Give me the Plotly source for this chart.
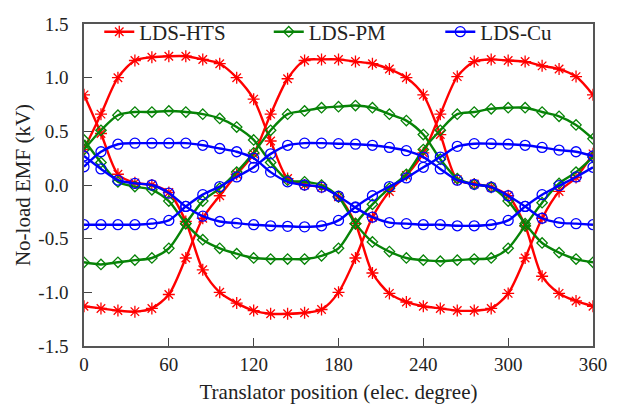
import plotly.graph_objects as go

# Translator position (electrical degrees), markers every 12 degrees
theta = list(range(0, 361, 12))

# LDS-HTS three-phase no-load EMF (kV)
hts_a = [0.33, 0.66, 1.00, 1.16, 1.19, 1.20, 1.20, 1.17, 1.13, 1.00, 0.80, 0.41, 0.06, 0.00, -0.02, -0.11,
         -0.36, -0.82, -1.01, -1.09, -1.13, -1.15, -1.17, -1.17, -1.15, -1.01, -0.68, -0.31, -0.06, 0.07, 0.29]
hts_b = [-1.13, -1.15, -1.17, -1.18, -1.15, -1.02, -0.68, -0.31, -0.10, 0.10, 0.29, 0.66, 0.99, 1.16, 1.17, 1.17,
         1.15, 1.13, 1.08, 1.00, 0.84, 0.47, 0.05, 0.01, -0.02, -0.10, -0.38, -0.85, -1.01, -1.08, -1.13]
hts_c = [0.84, 0.48, 0.10, 0.02, 0.00, -0.07, -0.34, -0.79, -1.00, -1.10, -1.17, -1.20, -1.20, -1.19, -1.16, -1.00,
         -0.68, -0.30, -0.06, 0.09, 0.30, 0.66, 1.01, 1.15, 1.17, 1.16, 1.15, 1.11, 1.08, 1.01, 0.84]

# LDS-PM
pm_a = [0.33, 0.51, 0.65, 0.68, 0.68, 0.69, 0.68, 0.66, 0.62, 0.54, 0.42, 0.21, 0.045, 0.03, 0.00, -0.11,
        -0.36, -0.53, -0.62, -0.68, -0.70, -0.71, -0.70, -0.69, -0.68, -0.59, -0.38, -0.165, 0.015, 0.12, 0.26]
pm_b = [-0.72, -0.74, -0.72, -0.70, -0.68, -0.59, -0.36, -0.15, -0.03, 0.12, 0.30, 0.51, 0.66, 0.69, 0.72, 0.73,
        0.74, 0.72, 0.66, 0.60, 0.47, 0.24, 0.06, 0.006, -0.02, -0.15, -0.36, -0.54, -0.63, -0.69, -0.72]
pm_c = [0.42, 0.21, 0.03, -0.015, -0.045, -0.15, -0.36, -0.51, -0.59, -0.64, -0.68, -0.69, -0.69, -0.69, -0.66, -0.59,
        -0.36, -0.18, -0.03, 0.10, 0.33, 0.51, 0.66, 0.68, 0.71, 0.72, 0.72, 0.68, 0.64, 0.56, 0.43]

# LDS-Cu
cu_a = [0.17, 0.31, 0.38, 0.39, 0.39, 0.39, 0.39, 0.37, 0.34, 0.31, 0.25, 0.12, 0.03, 0.00, -0.02, -0.105,
        -0.21, -0.30, -0.35, -0.36, -0.37, -0.37, -0.38, -0.38, -0.37, -0.33, -0.20, -0.09, -0.006, 0.075, 0.165]
cu_b = [-0.37, -0.37, -0.37, -0.37, -0.36, -0.33, -0.20, -0.09, -0.015, 0.075, 0.165, 0.29, 0.37, 0.39, 0.39, 0.385,
        0.38, 0.37, 0.35, 0.32, 0.26, 0.15, 0.045, 0.006, -0.02, -0.10, -0.20, -0.31, -0.35, -0.36, -0.37]
cu_c = [0.27, 0.15, 0.045, 0.015, 0.0, -0.075, -0.20, -0.29, -0.34, -0.355, -0.37, -0.38, -0.385, -0.39, -0.38, -0.33,
        -0.205, -0.10, -0.015, 0.066, 0.165, 0.26, 0.36, 0.385, 0.385, 0.38, 0.37, 0.35, 0.325, 0.31, 0.27]

x_ticks = [0, 60, 120, 180, 240, 300, 360]
y_ticks = [1.5, 1.0, 0.5, 0.0, -0.5, -1.0, -1.5]
y_tick_text = ["1.5", "1.0", "0.5", "0.0", "-0.5", "-1.0", "-1.5"]

groups = [
    ("LDS-HTS", [hts_a, hts_b, hts_c], "#ff0000", "asterisk-open", 10, "legend"),
    ("LDS-PM", [pm_a, pm_b, pm_c], "#078307", "diamond-open", 8, "legend2"),
    ("LDS-Cu", [cu_a, cu_b, cu_c], "#0000ff", "circle-open", 10, "legend3"),
]

FONT = "Liberation Serif"
fig = go.Figure()
for name, phases, color, symbol, msize, leg in groups:
    for i, ys in enumerate(phases):
        fig.add_trace(go.Scatter(
            x=theta, y=ys, mode="lines+markers", name=name,
            showlegend=(i == 0), legend=leg, legendgroup=name,
            line=dict(color=color, width=2.4, shape="spline", smoothing=0.8),
            marker=dict(symbol=symbol, size=msize, color=color, line=dict(color=color, width=1.3)),
        ))

leg_common = dict(orientation="h", yanchor="middle", y=0.975, xanchor="left",
                  bgcolor="rgba(0,0,0,0)", borderwidth=0,
                  font=dict(family=FONT, size=21, color="#222"))

fig.update_layout(
    width=621, height=405,
    margin=dict(l=84, r=28, t=14, b=59),
    paper_bgcolor="white", plot_bgcolor="white",
    font=dict(family=FONT, size=19, color="#222"),
    legend=dict(x=0.03, **leg_common),
    legend2=dict(x=0.363, **leg_common),
    legend3=dict(x=0.70, **leg_common),
    xaxis=dict(range=[0, 360], tickvals=x_ticks, ticks="inside", ticklen=8, tickcolor="#444",
               showline=True, linecolor="#555", linewidth=1.5, mirror=True, showgrid=False, zeroline=False,
               automargin=False,
               tickfont=dict(family=FONT, size=19, color="#222"),
               title=dict(text="Translator position (elec. degree)", font=dict(family=FONT, size=21, color="#222"), standoff=11)),
    yaxis=dict(range=[-1.5, 1.5], tickvals=y_ticks, ticktext=y_tick_text, ticks="inside", ticklen=8, tickcolor="#444",
               showline=True, linecolor="#555", linewidth=1.5, mirror=True, showgrid=False, zeroline=False,
               automargin=False,
               tickfont=dict(family=FONT, size=19, color="#222"), ticklabelstandoff=10,
               title=dict(text="No-load EMF (kV)", font=dict(family=FONT, size=21, color="#222"), standoff=2)),
)

fig.write_html("out.html")
